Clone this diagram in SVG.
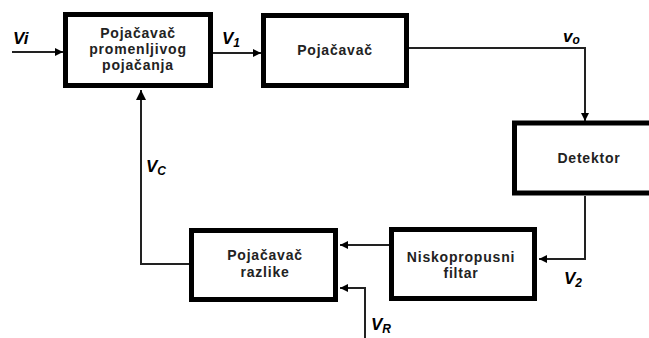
<svg xmlns="http://www.w3.org/2000/svg" width="649" height="338" viewBox="0 0 649 338">
<defs>
<marker id="arr" viewBox="0 0 10 10" refX="10" refY="5" markerWidth="10" markerHeight="8" markerUnits="userSpaceOnUse" orient="auto">
<path d="M0,0 L10,5 L0,10 z" fill="#000"/>
</marker>
<marker id="arrbig" viewBox="0 0 10 10" refX="10" refY="5" markerWidth="14" markerHeight="10" markerUnits="userSpaceOnUse" orient="auto">
<path d="M0,0 L10,5 L0,10 z" fill="#000"/>
</marker>
</defs>
<style>
.box{fill:#fff;stroke:#000;stroke-width:5}
.lbl{font-family:"Liberation Sans",Arial,sans-serif;font-weight:bold;font-size:14px;letter-spacing:0.8px;text-anchor:middle;fill:#222}
.v{font-family:"Liberation Sans",Arial,sans-serif;font-weight:bold;font-style:italic;font-size:17px;fill:#000}
.sub{font-size:12px}
.wire{fill:none;stroke:#222;stroke-width:2}
</style>
<rect width="649" height="338" fill="#fff"/>
<g id="connectors">
<path class="wire" d="M12,52 H63" marker-end="url(#arr)"/>
<path class="wire" d="M213,53 H261" marker-end="url(#arr)"/>
<path class="wire" d="M409,48 H585 V121" marker-end="url(#arr)"/>
<path class="wire" d="M585,196 V259 H539" marker-end="url(#arr)"/>
<path class="wire" d="M389,245 H340" marker-end="url(#arr)"/>
<path class="wire" d="M365,338 V288 H340" marker-end="url(#arr)"/>
<path class="wire" d="M189,264 H141 V90" marker-end="url(#arrbig)"/>
</g>
<g id="labels">
<text class="v" x="13" y="44">Vi</text>
<text class="v" x="222" y="44">V<tspan class="sub" dy="3">1</tspan></text>
<text class="v" x="563" y="42" font-size="15">v<tspan class="sub" dy="2">o</tspan></text>
<text class="v" x="146" y="172">V<tspan class="sub" dy="3">C</tspan></text>
<text class="v" x="564" y="284">V<tspan class="sub" dy="3">2</tspan></text>
<text class="v" x="371" y="330">V<tspan class="sub" dy="3">R</tspan></text>
</g>
<g id="n1">
<rect class="box" x="65.5" y="14.5" width="145" height="71"/>
<text class="lbl" x="138" y="38">Pojačavač</text>
<text class="lbl" x="138" y="54">promenljivog</text>
<text class="lbl" x="138" y="70">pojačanja</text>
</g>
<g id="n2">
<rect class="box" x="263.5" y="15.5" width="143" height="70"/>
<text class="lbl" x="335" y="55">Pojačavač</text>
</g>
<g id="n3">
<rect class="box" x="514.5" y="123" width="140" height="70"/>
<text class="lbl" x="589" y="163">Detektor</text>
</g>
<g id="n4">
<rect class="box" x="391.5" y="229.5" width="143" height="69"/>
<text class="lbl" x="461" y="262">Niskopropusni</text>
<text class="lbl" x="461" y="278">filtar</text>
</g>
<g id="n5">
<rect class="box" x="191.5" y="230.5" width="144" height="69"/>
<text class="lbl" x="265" y="260">Pojačavač</text>
<text class="lbl" x="265" y="277">razlike</text>
</g>
</svg>
